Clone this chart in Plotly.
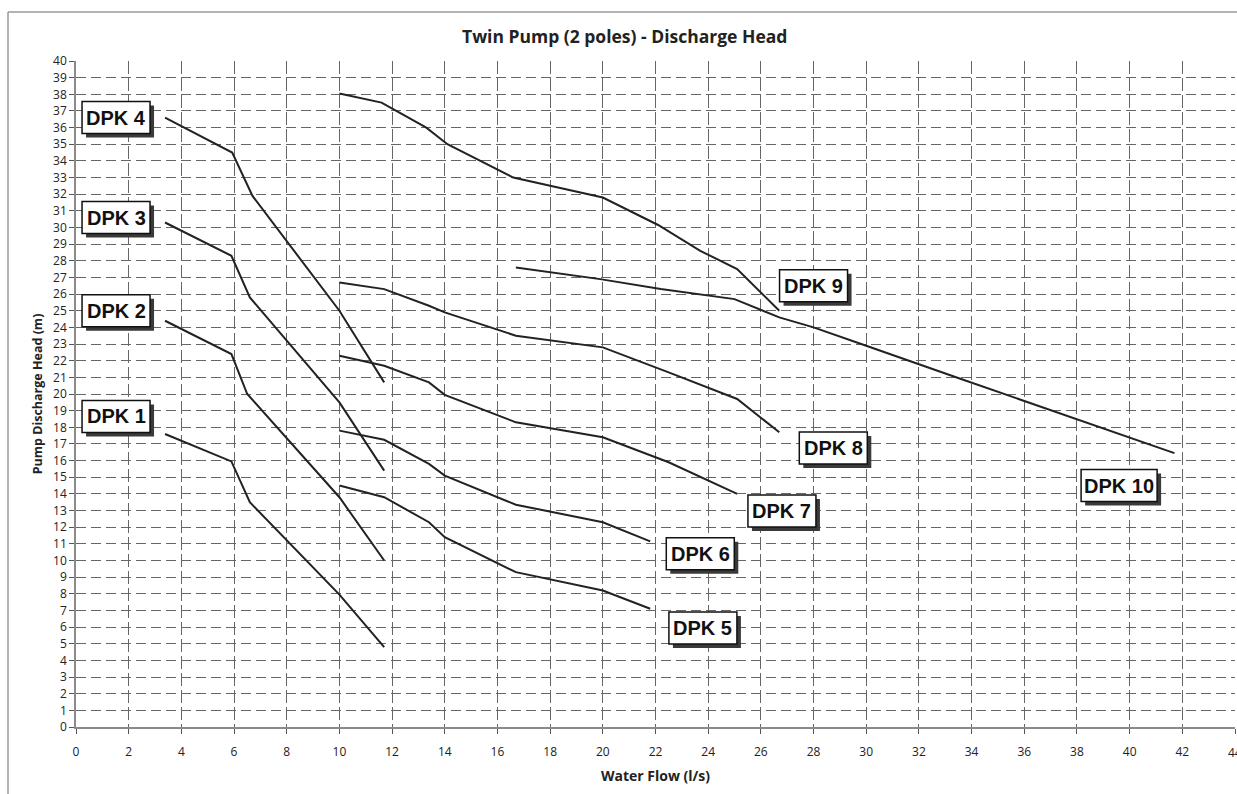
import plotly.graph_objects as go

# ---- data ----
dpk1_x = [3.38, 5.9, 6.6, 10.0, 11.7]
dpk1_y = [17.6, 15.95, 13.5, 7.95, 4.8]

dpk2_x = [3.38, 5.9, 6.5, 10.0, 11.7]
dpk2_y = [24.4, 22.4, 20.0, 13.8, 10.0]

dpk3_x = [3.38, 5.9, 6.6, 10.0, 11.7]
dpk3_y = [30.3, 28.3, 25.8, 19.5, 15.4]

dpk4_x = [3.38, 5.93, 6.7, 10.0, 11.7]
dpk4_y = [36.6, 34.5, 31.9, 25.0, 20.7]

dpk5_x = [10.0, 11.7, 13.4, 14.0, 16.7, 20.0, 21.8]
dpk5_y = [14.5, 13.8, 12.3, 11.4, 9.3, 8.2, 7.1]

dpk6_x = [10.0, 11.7, 13.4, 14.0, 16.7, 20.0, 21.8]
dpk6_y = [17.8, 17.25, 15.8, 15.1, 13.35, 12.3, 11.15]

dpk7_x = [10.0, 11.7, 13.4, 14.0, 16.7, 20.0, 22.5, 25.1]
dpk7_y = [22.3, 21.7, 20.7, 19.95, 18.3, 17.4, 15.9, 14.0]

dpk8_x = [10.0, 11.7, 13.4, 14.0, 16.7, 20.0, 22.5, 25.1, 26.7]
dpk8_y = [26.7, 26.3, 25.3, 24.9, 23.5, 22.8, 21.3, 19.7, 17.7]

dpk9_x = [10.0, 11.6, 13.3, 14.1, 16.6, 20.0, 22.1, 23.7, 25.1, 26.7]
dpk9_y = [38.05, 37.5, 36.0, 35.0, 33.0, 31.8, 30.15, 28.6, 27.5, 25.0]

dpk10_x = [16.7, 19.9, 22.2, 25.0, 26.7, 28.0, 30.0, 33.6, 41.7]
dpk10_y = [27.6, 26.9, 26.3, 25.7, 24.6, 24.0, 22.9, 20.9, 16.45]

curves = [
    ("DPK 1", dpk1_x, dpk1_y),
    ("DPK 2", dpk2_x, dpk2_y),
    ("DPK 3", dpk3_x, dpk3_y),
    ("DPK 4", dpk4_x, dpk4_y),
    ("DPK 5", dpk5_x, dpk5_y),
    ("DPK 6", dpk6_x, dpk6_y),
    ("DPK 7", dpk7_x, dpk7_y),
    ("DPK 8", dpk8_x, dpk8_y),
    ("DPK 9", dpk9_x, dpk9_y),
    ("DPK 10", dpk10_x, dpk10_y),
]

label_names = ["DPK 1", "DPK 2", "DPK 3", "DPK 4", "DPK 5",
               "DPK 6", "DPK 7", "DPK 8", "DPK 9", "DPK 10"]
label_x = [1.52, 1.52, 1.52, 1.52, 23.8, 23.7, 26.8, 28.75, 28.0, 39.6]
label_y = [18.65, 25.0, 30.6, 36.6, 5.95, 10.4, 12.97, 16.75, 26.5, 14.5]

x_ticks = list(range(0, 45, 2))
y_ticks = list(range(0, 41, 1))

fig = go.Figure()
for name, xs, ys in curves:
    fig.add_trace(go.Scatter(x=xs, y=ys, mode="lines", name=name,
                             line=dict(color="#222222", width=2),
                             showlegend=False, hoverinfo="skip"))

label_font = dict(family="Liberation Sans, Arial, sans-serif", size=20, color="#111111")
for n, lx, ly in zip(label_names, label_x, label_y):
    hw = 38 if n == "DPK 10" else 34
    hh = 16
    # drop shadow
    fig.add_shape(type="rect", xref="x", yref="y", xsizemode="pixel", ysizemode="pixel",
                  xanchor=lx, yanchor=ly, x0=-hw + 4, x1=hw + 4, y0=-hh - 4, y1=hh - 4,
                  fillcolor="#3a3a3a", line=dict(width=0), layer="above")
    # white box
    fig.add_shape(type="rect", xref="x", yref="y", xsizemode="pixel", ysizemode="pixel",
                  xanchor=lx, yanchor=ly, x0=-hw, x1=hw, y0=-hh, y1=hh,
                  fillcolor="white", line=dict(color="#111111", width=1.5), layer="above")
    fig.add_annotation(x=lx, y=ly, text="<b>%s</b>" % n, showarrow=False,
                       font=label_font, xanchor="center", yanchor="middle")

fig.add_annotation(xref="paper", yref="paper", x=0.473, y=1.0 + (61 - 36) / 666,
                   text="<b>Twin Pump (2 poles) - Discharge Head</b>", showarrow=False,
                   font=dict(family="Open Sans, sans-serif", size=17.5, color="#222222"),
                   xanchor="center", yanchor="middle")

# last tick label, cut off at the right edge as in the reference
fig.add_annotation(xref="x", yref="paper", x=x_ticks[-1], y=-(752 - 727) / 666,
                   text=str(x_ticks[-1]), showarrow=False,
                   font=dict(family="Open Sans, sans-serif", size=12, color="#222222"),
                   xanchor="center", yanchor="middle")

# outer frame (cut off at right/bottom like the reference)
fig.add_shape(type="line", xref="paper", yref="paper",
              x0=(8 - 76) / 1159, x1=1.05, y0=(727 - 12) / 666, y1=(727 - 12) / 666,
              line=dict(color="#9a9a9a", width=1.5))
fig.add_shape(type="line", xref="paper", yref="paper",
              x0=(8 - 76) / 1159, x1=(8 - 76) / 1159, y0=(727 - 12) / 666, y1=-0.2,
              line=dict(color="#9a9a9a", width=1.5))

fig.update_layout(
    width=1237, height=794,
    margin=dict(l=76, r=2, t=61, b=67),
    paper_bgcolor="white", plot_bgcolor="white",
    font=dict(family="Open Sans, sans-serif", size=12, color="#222222"),
)
fig.update_xaxes(
    range=[0, 44], tickvals=x_ticks, ticktext=[str(v) for v in x_ticks],
    showgrid=True, gridcolor="#666666", gridwidth=1, griddash="13px,4px",
    showline=True, linecolor="#8a8a8a", linewidth=1.5,
    ticks="outside", ticklen=5, tickcolor="#555555",
    ticklabelstandoff=8, zeroline=False,
    title=dict(text="<b>Water Flow (l/s)</b>", font=dict(size=14, family="Open Sans, sans-serif"),
               standoff=12),
)
fig.update_yaxes(
    range=[0, 40], tickvals=y_ticks, ticktext=[str(v) for v in y_ticks],
    showgrid=True, gridcolor="#666666", gridwidth=1, griddash="10px,5px",
    showline=True, linecolor="#8a8a8a", linewidth=1.5,
    ticks="outside", ticklen=5, tickcolor="#555555", zeroline=False,
    title=dict(text="<b>Pump Discharge Head (m)</b>", font=dict(size=12.5, family="Open Sans, sans-serif"),
               standoff=8),
)

fig.write_html("out.html", config={"displayModeBar": False},
               post_script="document.body.style.margin='0';document.body.style.overflow='hidden';")
